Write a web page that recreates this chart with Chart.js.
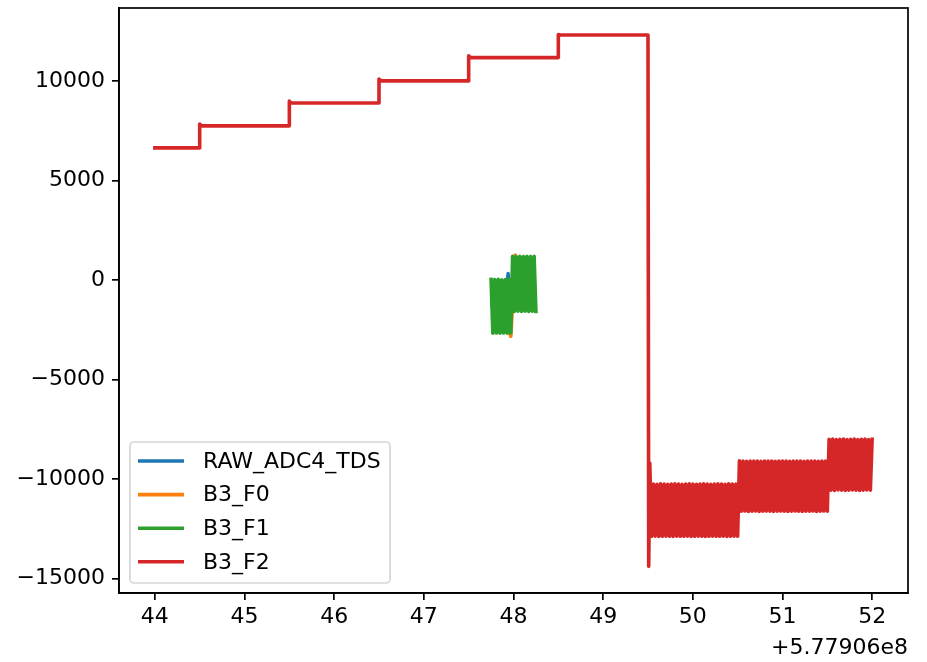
<!DOCTYPE html>
<html>
<head>
<meta charset="utf-8">
<script src="https://cdn.jsdelivr.net/npm/chart.js@4.4.1/dist/chart.umd.min.js"></script>
<style>
    html, body { margin: 0; padding: 0; background: #fff; }
    #wrap { width: 927px; height: 662px; }
</style>
</head>
<body>
<div id="wrap"><canvas id="chart" width="927" height="662"></canvas></div>
<script>
// time axis values are seconds after 5.77906e8
const xOffsetLabel = "+5.77906e8";
const xTicks = [44, 45, 46, 47, 48, 49, 50, 51, 52];
const yTicks = [-15000, -10000, -5000, 0, 5000, 10000];
const seriesNames = ["RAW_ADC4_TDS", "B3_F0", "B3_F1", "B3_F2"];
const seriesColors = ["#1f77b4", "#ff7f0e", "#2ca02c", "#d62728"];

const timeRaw = [47.76, 47.8, 47.85, 47.9, 47.94, 47.98, 48.05, 48.1, 48.15, 48.2];
const valueRaw = [-1200, -2000, -500, -1800, 330, -1500, 300, -1000, 500, -800];

const timeF0 = [47.8, 47.85, 47.9, 47.97, 48.02, 48.08, 48.15, 48.2];
const valueF0 = [-1500, -800, -2000, -2820, 1260, -1000, 200, -900];

const timeF1 = [
    47.75, 47.77, 47.79, 47.81, 47.83, 47.85, 47.87, 47.89, 47.91, 47.93, 47.95, 47.97,
    47.99, 48.01, 48.03, 48.05, 48.07, 48.09, 48.11, 48.13, 48.15, 48.17, 48.19, 48.21, 48.23, 48.25
];
const valueF1 = [
    40, -2670, 30, -2660, 40, -2670, 20, -2660, 30, -2670, 40, -2660,
    1200, -1570, 1190, -1560, 1200, -1570, 1190, -1560, 1200, -1570, 1190, -1560, 1200, -1570
];

const timeF2 = [
    // staircase
    44.0, 44.5, 44.5, 44.52, 45.5, 45.5, 45.52, 46.5, 46.5, 46.52, 47.5, 47.5, 47.52,
    48.5, 48.5, 48.52, 49.5, 49.508,
    // first burst
    49.52, 49.54, 49.56, 49.58, 49.6, 49.62, 49.64, 49.66, 49.68, 49.7,
    49.72, 49.74, 49.76, 49.78, 49.8, 49.82, 49.84, 49.86, 49.88, 49.9,
    49.92, 49.94, 49.96, 49.98, 50.0, 50.02, 50.04, 50.06, 50.08, 50.1,
    50.12, 50.14, 50.16, 50.18, 50.2, 50.22, 50.24, 50.26, 50.28, 50.3,
    50.32, 50.34, 50.36, 50.38, 50.4, 50.42, 50.44, 50.46, 50.48, 50.5,
    // second burst
    50.52, 50.54, 50.56, 50.58, 50.6, 50.62, 50.64, 50.66, 50.68, 50.7,
    50.72, 50.74, 50.76, 50.78, 50.8, 50.82, 50.84, 50.86, 50.88, 50.9,
    50.92, 50.94, 50.96, 50.98, 51.0, 51.02, 51.04, 51.06, 51.08, 51.1,
    51.12, 51.14, 51.16, 51.18, 51.2, 51.22, 51.24, 51.26, 51.28, 51.3,
    51.32, 51.34, 51.36, 51.38, 51.4, 51.42, 51.44, 51.46, 51.48, 51.5,
    // third burst
    51.52, 51.54, 51.56, 51.58, 51.6, 51.62, 51.64, 51.66, 51.68, 51.7,
    51.72, 51.74, 51.76, 51.78, 51.8, 51.82, 51.84, 51.86, 51.88, 51.9,
    51.92, 51.94, 51.96, 51.98, 52.0
];
const valueF2 = [
    6650, 6650, 7850, 7760, 7760, 9000, 8910, 8910, 10110, 10020, 10020, 11280, 11190,
    11190, 12346, 12330, 12330, -14390,
    -9200, -12880, -10250, -12870, -10260, -12890, -10240, -12880, -10250, -12870,
    -10260, -12880, -10250, -12890, -10240, -12870, -10250, -12880, -10260, -12880,
    -10250, -12870, -10240, -12890, -10250, -12880, -10260, -12870, -10250, -12880,
    -10240, -12890, -10250, -12880, -10260, -12870, -10250, -12880, -10240, -12880,
    -10250, -12870, -10260, -12890, -10240, -12880, -10250, -12870, -10250, -12880,
    -9080, -11620, -9100, -11610, -9110, -11630, -9100, -11620, -9090, -11610,
    -9100, -11630, -9110, -11620, -9100, -11610, -9090, -11620, -9100, -11630,
    -9110, -11620, -9100, -11610, -9090, -11620, -9100, -11630, -9110, -11620,
    -9100, -11610, -9090, -11620, -9100, -11630, -9110, -11620, -9100, -11620,
    -9090, -11610, -9100, -11630, -9110, -11620, -9100, -11610, -9100, -11620,
    -8000, -10560, -7990, -10570, -8010, -10550, -8000, -10560, -7990, -10570,
    -8010, -10560, -8000, -10550, -7990, -10560, -8010, -10570, -8000, -10560,
    -7990, -10550, -8010, -10560, -8000
];

const seriesTimes = [timeRaw, timeF0, timeF1, timeF2];
const seriesValues = [valueRaw, valueF0, valueF1, valueF2];

const FONT = "'DejaVu Sans', sans-serif";
const LINE_W = 3.6;

function toPoints(times, values) {
    return times.map((t, i) => ({ x: t, y: values[i] }));
}

// spines on top/right, offset text and the legend box (drawn like matplotlib)
const extrasPlugin = {
    id: "extras",
    afterDraw(chart) {
        const ctx = chart.ctx;
        const a = chart.chartArea;
        ctx.save();
        ctx.strokeStyle = "#000";
        ctx.lineWidth = 1.7;
        ctx.strokeRect(a.left, a.top, a.right - a.left, a.bottom - a.top);

        ctx.font = "22px " + FONT;
        ctx.fillStyle = "#000";
        ctx.textAlign = "right";
        ctx.textBaseline = "middle";
        ctx.fillText(xOffsetLabel, a.right, 648);

        // legend
        const bx = a.left + 11, by = 442, bw = 260, bh = 141;
        ctx.beginPath();
        ctx.roundRect(bx, by, bw, bh, 4);
        ctx.fillStyle = "rgba(255,255,255,0.8)";
        ctx.fill();
        ctx.strokeStyle = "rgba(204,204,204,0.8)";
        ctx.lineWidth = 1.7;
        ctx.stroke();

        ctx.textAlign = "left";
        chart.data.datasets.forEach((ds, i) => {
            const y = 461 + i * 33.6;
            ctx.beginPath();
            ctx.moveTo(bx + 8, y);
            ctx.lineTo(bx + 54, y);
            ctx.strokeStyle = ds.borderColor;
            ctx.lineWidth = LINE_W;
            ctx.stroke();
            ctx.fillStyle = "#000";
            ctx.fillText(ds.label, bx + 73, y + 1);
        });
        ctx.restore();
    }
};

document.addEventListener("DOMContentLoaded", () => {
    const ctx = document.getElementById("chart").getContext("2d");
    new Chart(ctx, {
        type: "line",
        data: {
            datasets: seriesNames.map((name, i) => ({
                label: name,
                data: toPoints(seriesTimes[i], seriesValues[i]),
                borderColor: seriesColors[i],
                backgroundColor: seriesColors[i],
                borderWidth: LINE_W,
                borderJoinStyle: "round",
                borderCapStyle: "square",
                pointRadius: 0,
                tension: 0,
                fill: false,
                order: seriesNames.length - 1 - i
            }))
        },
        options: {
            responsive: false,
            animation: false,
            events: [],
            layout: { padding: { top: 8, right: 19, left: 0, bottom: 0 } },
            plugins: {
                legend: { display: false },
                tooltip: { enabled: false }
            },
            scales: {
                x: {
                    type: "linear",
                    min: 43.6,
                    max: 52.4,
                    afterBuildTicks: (scale) => { scale.ticks = xTicks.map(v => ({ value: v })); },
                    afterFit: (scale) => {
                        scale.height = 69;
                        scale.paddingLeft = 0;
                        scale.paddingRight = 0;
                    },
                    grid: { drawOnChartArea: false, drawTicks: true, tickLength: 7, color: "#000", lineWidth: 1.7 },
                    border: { display: true, color: "#000", width: 1.7 },
                    ticks: {
                        color: "#000",
                        padding: 4,
                        maxRotation: 0,
                        autoSkip: false,
                        font: { family: FONT, size: 22 },
                        callback: (v) => String(v)
                    }
                },
                y: {
                    type: "linear",
                    min: -15730,
                    max: 13685,
                    afterBuildTicks: (scale) => { scale.ticks = yTicks.map(v => ({ value: v })); },
                    afterFit: (scale) => {
                        scale.width = 119;
                        scale.paddingTop = 0;
                        scale.paddingBottom = 0;
                    },
                    grid: { drawOnChartArea: false, drawTicks: true, tickLength: 7, color: "#000", lineWidth: 1.7 },
                    border: { display: true, color: "#000", width: 1.7 },
                    ticks: {
                        color: "#000",
                        padding: 7,
                        autoSkip: false,
                        font: { family: FONT, size: 22 },
                        callback: (v) => (v < 0 ? "\u2212" + Math.abs(v) : String(v))
                    }
                }
            }
        },
        plugins: [extrasPlugin]
    });
});
</script>
</body>
</html>
